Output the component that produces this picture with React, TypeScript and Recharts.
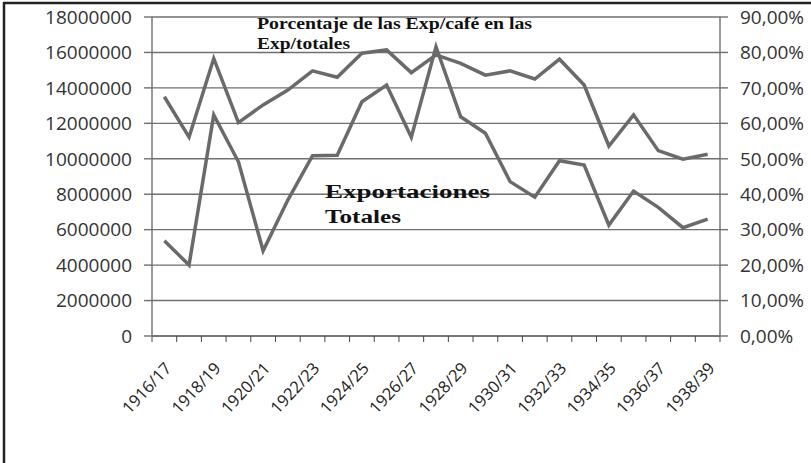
import React from "react";
import { LineChart, Line, XAxis, YAxis, CartesianGrid } from "recharts";

const categories = [
  "1916/17", "1917/18", "1918/19", "1919/20", "1920/21", "1921/22", "1922/23", "1923/24",
  "1924/25", "1925/26", "1926/27", "1927/28", "1928/29", "1929/30", "1930/31", "1931/32",
  "1932/33", "1933/34", "1934/35", "1935/36", "1936/37", "1937/38", "1938/39",
];

// Exportaciones totales (left axis)
const exportacionesTotales = [
  5380000, 4000000, 12470000, 9830000, 4810000, 7670000, 10170000, 10200000,
  13220000, 14160000, 11210000, 16320000, 12370000, 11440000, 8710000, 7830000,
  9890000, 9650000, 6260000, 8180000, 7260000, 6110000, 6600000,
];

// Porcentaje de las Exp/café en las Exp/totales (right axis)
const porcentajeCafe = [
  0.675, 0.561, 0.783, 0.602, 0.652, 0.694, 0.748, 0.730,
  0.798, 0.807, 0.743, 0.793, 0.769, 0.736, 0.748, 0.725,
  0.781, 0.708, 0.536, 0.624, 0.523, 0.499, 0.513,
];

const leftTicks = [0, 2000000, 4000000, 6000000, 8000000, 10000000, 12000000, 14000000, 16000000, 18000000];
const rightTicks = [0, 0.1, 0.2, 0.3, 0.4, 0.5, 0.6, 0.7, 0.8, 0.9];
const boundaryTicks = Array.from({ length: categories.length + 1 }, (_, i) => i);

const data = categories.map((c, i) => ({
  pos: i + 0.5,
  label: c,
  exp: exportacionesTotales[i],
  pct: porcentajeCafe[i],
}));

const W = 811;
const H = 463;
const LEFT_W = 152;
const RIGHT_W = 91;
const BAND = (W - LEFT_W - RIGHT_W) / categories.length;
const FONT = "'Open Sans', 'Liberation Sans', sans-serif";
const LINE = "#6a6a6a";
const GRID = "#6f6f6f";

function XTick(props: any) {
  const { x, y, payload } = props;
  const i = payload.value;
  if (i % 2 !== 0 || i >= categories.length) return null;
  const tx = x + BAND / 2 + 8;
  const ty = y + 25;
  return (
    <text
      x={tx}
      y={ty}
      transform={`rotate(-47, ${tx}, ${ty})`}
      textAnchor="end"
      fontFamily={FONT}
      fontSize={16.5}
      fill="#222"
    >
      {categories[i]}
    </text>
  );
}

const fmtPct = (v: number) => `${(v * 100).toFixed(2).replace(".", ",")}%`;

export default function App() {
  return (
    <div style={{ position: "absolute", left: 0, top: 0, width: W, height: H, background: "#fff" }}>
      <LineChart width={W} height={H} data={data} margin={{ top: 17, right: 0, left: 0, bottom: 0 }}>
        <CartesianGrid vertical={false} stroke={GRID} strokeWidth={1.4} yAxisId="left" />
        <XAxis
          dataKey="pos"
          type="number"
          domain={[0, categories.length]}
          ticks={boundaryTicks}
          interval={0}
          height={127}
          tickSize={6}
          tickLine={{ stroke: "#444" }}
          axisLine={{ stroke: GRID, strokeWidth: 1.4 }}
          tick={<XTick />}
        />
        <YAxis
          yAxisId="left"
          domain={[0, 18000000]}
          ticks={leftTicks}
          interval={0}
          width={LEFT_W}
          tickSize={8}
          tickMargin={12}
          tickLine={{ stroke: GRID, strokeWidth: 1.4 }}
          axisLine={{ stroke: GRID, strokeWidth: 1.4 }}
          tick={{ fontFamily: FONT, fontSize: 19, fill: "#333" }}
        />
        <YAxis
          yAxisId="right"
          orientation="right"
          domain={[0, 0.9]}
          ticks={rightTicks}
          interval={0}
          width={RIGHT_W}
          tickSize={8}
          tickMargin={12}
          tickLine={{ stroke: GRID, strokeWidth: 1.4 }}
          axisLine={{ stroke: GRID, strokeWidth: 1.4 }}
          tickFormatter={fmtPct}
          tick={{ fontFamily: FONT, fontSize: 19, fill: "#333" }}
        />
        <Line yAxisId="left" dataKey="exp" stroke={LINE} strokeWidth={3.5} dot={false} isAnimationActive={false} />
        <Line yAxisId="right" dataKey="pct" stroke={LINE} strokeWidth={3.5} dot={false} isAnimationActive={false} />
      </LineChart>
      <svg width={W} height={H} style={{ position: "absolute", left: 0, top: 0, pointerEvents: "none" }}>
        <line x1={4} y1={2} x2={4} y2={H} stroke="#222" strokeWidth={2.5} />
        <line x1={3} y1={3} x2={W} y2={3} stroke="#222" strokeWidth={2.5} />
        <g fontFamily="'Liberation Serif', 'Times New Roman', serif" fontWeight="bold" fill="#111">
          <text x={257} y={29} fontSize={17} textLength={275} lengthAdjust="spacingAndGlyphs">
            Porcentaje de las Exp/café en las
          </text>
          <text x={257} y={49} fontSize={17} textLength={93} lengthAdjust="spacingAndGlyphs">
            Exp/totales
          </text>
          <text x={325} y={198} fontSize={18} textLength={165} lengthAdjust="spacingAndGlyphs">
            Exportaciones
          </text>
          <text x={325} y={223} fontSize={18} textLength={76} lengthAdjust="spacingAndGlyphs">
            Totales
          </text>
        </g>
      </svg>
    </div>
  );
}
